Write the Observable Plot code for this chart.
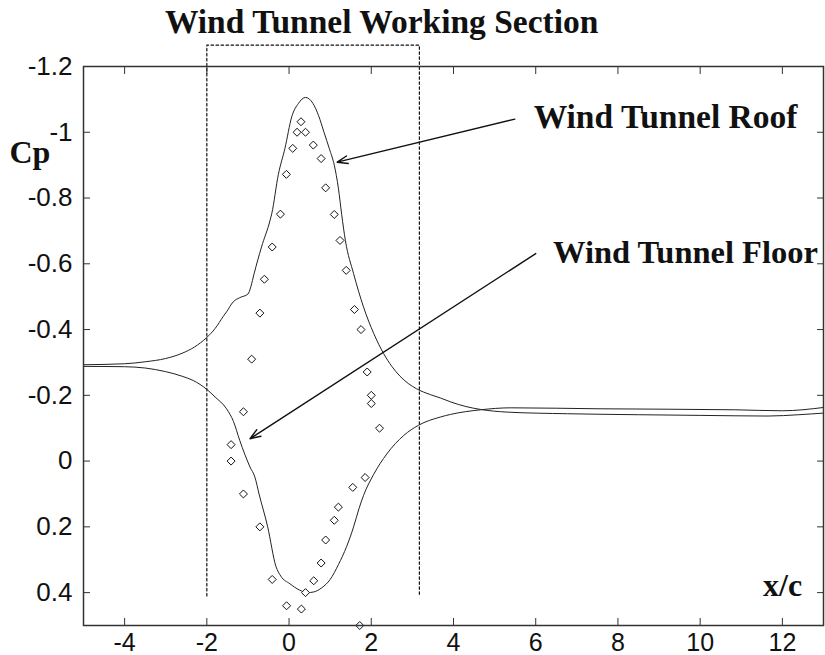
<!DOCTYPE html>
<html>
<head>
<meta charset="utf-8">
<script src="https://cdn.jsdelivr.net/npm/d3@7"></script>
<script src="https://cdn.jsdelivr.net/npm/@observablehq/plot@0.6"></script>
<style>
  html, body { margin: 0; padding: 0; background: #fff; }
  #chart svg { display: block; }
</style>
</head>
<body>
<div id="chart"></div>
<script>
// Computed Cp along the wind tunnel roof
const roofX  = [-5.0, -4.0, -3.5, -3.0, -2.6, -2.3, -2.0, -1.8, -1.6, -1.52, -1.36, -1.2, -1.0, -0.93, -0.85, -0.67, -0.46, -0.42, -0.26, -0.1, 0.065, 0.23, 0.40, 0.58, 0.72, 0.85, 0.98, 1.1, 1.2, 1.28, 1.37, 1.57, 1.81, 2.06, 2.30, 2.50, 2.70, 2.90, 3.10, 3.44, 3.68, 3.93, 4.3, 4.66, 5.3, 6.77, 8.5, 10.0, 11.65, 12.4, 13.0];
const roofCp = [-0.293, -0.296, -0.302, -0.312, -0.328, -0.347, -0.376, -0.403, -0.44, -0.454, -0.484, -0.497, -0.508, -0.53, -0.57, -0.651, -0.733, -0.753, -0.872, -0.951, -1.047, -1.088, -1.106, -1.088, -1.05, -1.0, -0.95, -0.9, -0.83, -0.75, -0.671, -0.57, -0.469, -0.388, -0.327, -0.288, -0.258, -0.236, -0.220, -0.202, -0.192, -0.180, -0.166, -0.157, -0.149, -0.144, -0.141, -0.139, -0.137, -0.141, -0.146];

// Computed Cp along the wind tunnel floor
const floorX  = [-5.0, -4.0, -3.5, -3.0, -2.6, -2.33, -2.0, -1.8, -1.52, -1.35, -1.2, -0.95, -0.83, -0.73, -0.52, -0.32, -0.2, 0.02, 0.25, 0.45, 0.6, 0.8, 1.0, 1.2, 1.4, 1.57, 1.7, 1.81, 2.06, 2.38, 2.79, 3.15, 3.68, 3.93, 4.66, 5.39, 7.59, 10.84, 12.0, 13.0];
const floorCp = [-0.288, -0.287, -0.283, -0.272, -0.258, -0.245, -0.218, -0.195, -0.159, -0.12, -0.063, 0.018, 0.049, 0.10, 0.20, 0.32, 0.35, 0.373, 0.392, 0.40, 0.398, 0.385, 0.36, 0.315, 0.26, 0.2, 0.145, 0.105, 0.04, -0.022, -0.078, -0.109, -0.134, -0.142, -0.156, -0.162, -0.159, -0.156, -0.153, -0.163];

// Measured Cp (diamonds)
const expX  = [0.29, 0.195, 0.40, 0.09, 0.59, 0.78, -0.065, 0.89, -0.21, 1.10, -0.41, 1.24, 1.39, -0.6, -0.71, 1.59, 1.75, -0.91, 1.90, 2.0, 2.0, 2.2, -1.11, -1.41, -1.41, -1.11, -0.71, -0.41, -0.06, 0.30, 0.40, 0.60, 0.78, 0.89, 1.10, 1.20, 1.55, 1.85, 1.72];
const expCp = [-1.032, -1.0, -1.0, -0.951, -0.961, -0.92, -0.872, -0.831, -0.751, -0.75, -0.651, -0.671, -0.58, -0.553, -0.45, -0.461, -0.40, -0.31, -0.271, -0.2, -0.175, -0.1, -0.15, -0.05, 0.0, 0.10, 0.20, 0.36, 0.44, 0.45, 0.40, 0.364, 0.31, 0.24, 0.18, 0.14, 0.08, 0.05, 0.50];

// Working section extent
const sectionX  = [-2, 3.17];
const sectionCp = [0.41, -1.265];

// Annotation arrows (from label to curve)
const arrowFromX  = [5.49, 6.0];
const arrowFromCp = [-1.04, -0.631];
const arrowToX    = [1.17, -0.95];
const arrowToCp   = [-0.909, -0.068];

// Axis ticks
const xTicks = [-4, -2, 0, 2, 4, 6, 8, 10, 12];
const yTicks = [-1.2, -1, -0.8, -0.6, -0.4, -0.2, 0, 0.2, 0.4];
const xDomain = [-5, 13];
const yDomain = [-1.2, 0.5];

const roof  = roofX.map((x, i) => ({x, cp: roofCp[i]}));
const floor = floorX.map((x, i) => ({x, cp: floorCp[i]}));
const exp   = expX.map((x, i) => ({x, cp: expCp[i]}));
const section = [
  {x: sectionX[0], cp: sectionCp[0]},
  {x: sectionX[0], cp: sectionCp[1]},
  {x: sectionX[1], cp: sectionCp[1]},
  {x: sectionX[1], cp: sectionCp[0]}
];
const arrows = arrowFromX.map((x, i) => ({x1: x, y1: arrowFromCp[i], x2: arrowToX[i], y2: arrowToCp[i]}));

const serif = "'Liberation Serif', 'Times New Roman', serif";
const sans = "'Liberation Sans', Arial, sans-serif";
const fmt = d => String(d);
const axisColor = "#333";
const labelStyle = {textAnchor: "start", lineAnchor: "bottom", fontFamily: serif, fontWeight: "bold", fontSize: 33.5, fill: "#111"};

const chart = Plot.plot({
  width: 825,
  height: 655,
  marginLeft: 83,
  marginRight: 2,
  marginTop: 66,
  marginBottom: 30,
  style: {fontFamily: sans, background: "#fff", overflow: "visible"},
  x: {domain: xDomain, label: null},
  y: {domain: yDomain, reverse: true, label: null},
  marks: [
    Plot.line(section, {x: "x", y: "cp", stroke: "#111", strokeWidth: 1.2, strokeDasharray: "2.5,2.5"}),
    Plot.line(roof, {x: "x", y: "cp", stroke: "#222", strokeWidth: 1, curve: "monotone-x"}),
    Plot.line(floor, {x: "x", y: "cp", stroke: "#222", strokeWidth: 1, curve: "monotone-x"}),
    Plot.dot(exp, {x: "x", y: "cp", symbol: "diamond2", r: 3.6, stroke: "#111", fill: "#fff", strokeWidth: 1}),
    Plot.arrow(arrows, {x1: "x1", y1: "y1", x2: "x2", y2: "y2", stroke: "#111", strokeWidth: 1.4, headLength: 12, headAngle: 40, bend: 0}),
    Plot.frame({stroke: axisColor, strokeWidth: 1.5}),
    Plot.axisX(xTicks, {anchor: "bottom", tickSize: -7, tickPadding: 15, tickFormat: fmt, fontSize: 25, fill: "#111", stroke: axisColor, label: null}),
    Plot.axisX(xTicks, {anchor: "top", tickSize: -7, tickFormat: () => "", stroke: axisColor, label: null}),
    Plot.axisY(yTicks, {anchor: "left", tickSize: -7, tickPadding: 18, tickFormat: fmt, fontSize: 26, fill: "#111", stroke: axisColor, label: null}),
    Plot.axisY(yTicks, {anchor: "right", tickSize: -7, tickFormat: () => "", stroke: axisColor, label: null}),
    Plot.text(["Wind Tunnel Working Section"], {x: -3.02, y: -1.301, text: d => d, ...labelStyle}),
    Plot.text(["Wind Tunnel Roof"], {x: 5.95, y: -1.012, text: d => d, ...labelStyle}),
    Plot.text(["Wind Tunnel Floor"], {x: 6.42, y: -0.601, text: d => d, ...labelStyle, fontSize: 32.5}),
    Plot.text(["Cp"], {x: -6.8, y: -0.906, text: d => d, ...labelStyle, fontSize: 32}),
    Plot.text(["x/c"], {x: 11.53, y: 0.409, text: d => d, ...labelStyle, fontSize: 32})
  ]
});
document.getElementById("chart").appendChild(chart);
</script>
</body>
</html>
